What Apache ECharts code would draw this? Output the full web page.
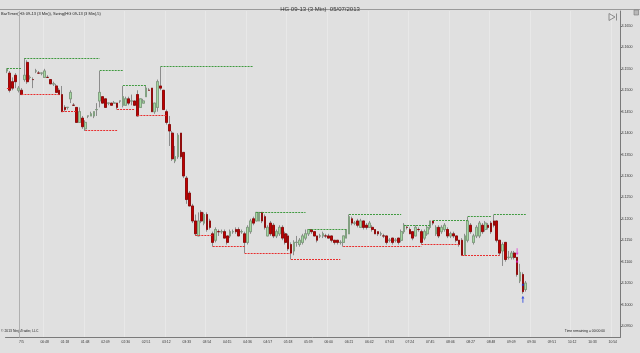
<!DOCTYPE html>
<html><head><meta charset="utf-8">
<script src="https://cdn.jsdelivr.net/npm/echarts@6/dist/echarts.min.js"></script>
<style>html,body{margin:0;padding:0;background:#e0e0e0;}#c{width:640px;height:353px;}</style>
</head><body><div id="c"></div>
<script>
// ---- data (HG 09-13, 3-minute bars) ----
const opens = [3.1545,3.1540,3.1520,3.1535,3.1500,3.1500,3.1525,3.1565,3.1530,3.1525,
3.1545,3.1540,3.1540,3.1530,3.1530,3.1525,3.1515,3.1510,3.1500,3.1490,
3.1460,3.1460,3.1480,3.1465,3.1460,3.1425,3.1435,3.1410,3.1440,3.1440,
3.1440,3.1455,3.1475,3.1485,3.1480,3.1470,3.1470,3.1470,3.1470,3.1475,
3.1465,3.1465,3.1480,3.1475,3.1475,3.1490,3.1460,3.1470,3.1485,3.1500,
3.1505,3.1450,3.1460,3.1510,3.1500,3.1450,3.1420,3.1400,3.1335,3.1345,
3.1400,3.1355,3.1295,3.1260,3.1230,3.1195,3.1160,3.1215,3.1190,3.1210,
3.1195,3.1165,3.1150,3.1170,3.1170,3.1170,3.1160,3.1160,3.1170,3.1175,
3.1175,3.1170,3.1165,3.1145,3.1170,3.1200,3.1195,3.1195,3.1215,3.1205,
3.1160,3.1190,3.1185,3.1160,3.1165,3.1180,3.1165,3.1160,3.1140,3.1125,
3.1145,3.1140,3.1145,3.1155,3.1165,3.1175,3.1170,3.1160,3.1160,3.1160,
3.1160,3.1160,3.1160,3.1150,3.1150,3.1145,3.1145,3.1155,3.1165,3.1200,
3.1190,3.1195,3.1180,3.1195,3.1185,3.1180,3.1180,3.1175,3.1170,3.1165,
3.1160,3.1160,3.1150,3.1155,3.1150,3.1155,3.1150,3.1170,3.1180,3.1175,
3.1170,3.1160,3.1175,3.1170,3.1155,3.1165,3.1180,3.1195,3.1165,3.1180,
3.1170,3.1175,3.1175,3.1160,3.1165,3.1160,3.1150,3.1150,3.1115,3.1150,
3.1185,3.1145,3.1160,3.1160,3.1185,3.1175,3.1185,3.1190,3.1195,3.1195,
3.1150,3.1125,3.1145,3.1110,3.1110,3.1120,3.1110,3.1055,3.1070,3.1035];
const highs = [3.1550,3.1545,3.1530,3.1540,3.1510,3.1505,3.1575,3.1570,3.1535,3.1530,
3.1550,3.1545,3.1540,3.1550,3.1535,3.1525,3.1520,3.1515,3.1505,3.1510,
3.1465,3.1460,3.1500,3.1470,3.1460,3.1460,3.1440,3.1430,3.1440,3.1450,
3.1450,3.1470,3.1545,3.1485,3.1480,3.1470,3.1470,3.1475,3.1470,3.1475,
3.1510,3.1485,3.1485,3.1490,3.1475,3.1500,3.1480,3.1480,3.1510,3.1505,
3.1505,3.1470,3.1525,3.1555,3.1500,3.1455,3.1440,3.1405,3.1370,3.1400,
3.1400,3.1355,3.1300,3.1265,3.1235,3.1210,3.1215,3.1220,3.1215,3.1215,
3.1200,3.1170,3.1180,3.1175,3.1175,3.1175,3.1160,3.1175,3.1175,3.1180,
3.1180,3.1175,3.1170,3.1185,3.1200,3.1205,3.1215,3.1215,3.1215,3.1210,
3.1185,3.1195,3.1190,3.1175,3.1185,3.1185,3.1170,3.1165,3.1145,3.1150,
3.1160,3.1155,3.1165,3.1175,3.1175,3.1175,3.1170,3.1160,3.1165,3.1170,
3.1165,3.1165,3.1160,3.1150,3.1150,3.1150,3.1160,3.1175,3.1210,3.1205,
3.1195,3.1200,3.1200,3.1195,3.1190,3.1195,3.1185,3.1175,3.1170,3.1170,
3.1165,3.1160,3.1155,3.1155,3.1155,3.1155,3.1175,3.1190,3.1185,3.1180,
3.1170,3.1185,3.1180,3.1175,3.1175,3.1185,3.1195,3.1195,3.1185,3.1185,
3.1185,3.1190,3.1180,3.1170,3.1170,3.1160,3.1150,3.1155,3.1165,3.1205,
3.1190,3.1165,3.1185,3.1195,3.1190,3.1195,3.1190,3.1195,3.1210,3.1195,
3.1150,3.1145,3.1145,3.1125,3.1125,3.1125,3.1110,3.1095,3.1075,3.1055];
const lows = [3.1540,3.1495,3.1500,3.1505,3.1495,3.1490,3.1520,3.1515,3.1525,3.1505,
3.1540,3.1540,3.1535,3.1530,3.1530,3.1515,3.1510,3.1495,3.1490,3.1450,
3.1450,3.1455,3.1470,3.1465,3.1425,3.1425,3.1410,3.1405,3.1435,3.1440,
3.1435,3.1440,3.1460,3.1470,3.1460,3.1465,3.1465,3.1470,3.1455,3.1470,
3.1460,3.1465,3.1465,3.1465,3.1465,3.1440,3.1460,3.1470,3.1485,3.1500,
3.1450,3.1445,3.1450,3.1500,3.1455,3.1420,3.1370,3.1335,3.1330,3.1340,
3.1340,3.1295,3.1235,3.1230,3.1190,3.1160,3.1160,3.1190,3.1185,3.1170,
3.1175,3.1135,3.1145,3.1160,3.1165,3.1155,3.1140,3.1155,3.1165,3.1165,
3.1160,3.1165,3.1120,3.1140,3.1165,3.1185,3.1195,3.1195,3.1190,3.1175,
3.1160,3.1160,3.1155,3.1155,3.1160,3.1150,3.1140,3.1125,3.1105,3.1115,
3.1135,3.1135,3.1140,3.1150,3.1160,3.1165,3.1160,3.1145,3.1155,3.1155,
3.1155,3.1155,3.1145,3.1140,3.1140,3.1140,3.1135,3.1155,3.1165,3.1185,
3.1185,3.1180,3.1180,3.1175,3.1175,3.1180,3.1170,3.1165,3.1160,3.1160,
3.1155,3.1140,3.1145,3.1140,3.1145,3.1140,3.1145,3.1165,3.1175,3.1165,
3.1150,3.1160,3.1170,3.1140,3.1150,3.1160,3.1175,3.1185,3.1160,3.1155,
3.1165,3.1170,3.1155,3.1155,3.1155,3.1145,3.1135,3.1115,3.1115,3.1145,
3.1165,3.1140,3.1155,3.1155,3.1165,3.1170,3.1175,3.1165,3.1180,3.1145,
3.1115,3.1090,3.1100,3.1105,3.1105,3.1105,3.1065,3.1050,3.1025,3.1030];
const closes = [3.1550,3.1500,3.1505,3.1520,3.1505,3.1490,3.1535,3.1520,3.1530,3.1525,
3.1545,3.1540,3.1540,3.1545,3.1530,3.1515,3.1515,3.1495,3.1490,3.1450,
3.1455,3.1460,3.1495,3.1465,3.1425,3.1450,3.1415,3.1425,3.1440,3.1445,
3.1450,3.1455,3.1495,3.1470,3.1460,3.1470,3.1465,3.1470,3.1460,3.1475,
3.1485,3.1480,3.1470,3.1475,3.1465,3.1440,3.1480,3.1475,3.1505,3.1500,
3.1450,3.1470,3.1520,3.1505,3.1455,3.1425,3.1405,3.1340,3.1345,3.1395,
3.1345,3.1300,3.1245,3.1230,3.1195,3.1165,3.1195,3.1195,3.1210,3.1175,
3.1180,3.1145,3.1175,3.1170,3.1170,3.1155,3.1145,3.1170,3.1170,3.1170,
3.1160,3.1170,3.1145,3.1180,3.1195,3.1190,3.1215,3.1215,3.1195,3.1180,
3.1180,3.1165,3.1160,3.1170,3.1180,3.1155,3.1145,3.1130,3.1120,3.1145,
3.1145,3.1150,3.1160,3.1165,3.1175,3.1170,3.1160,3.1150,3.1160,3.1165,
3.1160,3.1155,3.1150,3.1145,3.1145,3.1145,3.1160,3.1175,3.1205,3.1190,
3.1190,3.1185,3.1195,3.1180,3.1180,3.1190,3.1175,3.1165,3.1165,3.1165,
3.1160,3.1145,3.1150,3.1145,3.1150,3.1145,3.1170,3.1185,3.1180,3.1165,
3.1155,3.1180,3.1175,3.1145,3.1170,3.1180,3.1195,3.1190,3.1180,3.1160,
3.1180,3.1185,3.1160,3.1165,3.1160,3.1150,3.1140,3.1115,3.1160,3.1195,
3.1170,3.1160,3.1180,3.1190,3.1170,3.1190,3.1180,3.1170,3.1185,3.1150,
3.1120,3.1140,3.1105,3.1110,3.1120,3.1110,3.1070,3.1075,3.1030,3.1050];

// swing lines: [startBar, endBar, price]
const swingHighs = [[0,5,3.1550],[6,32,3.1575],[32,40,3.1545],[40,48,3.1510],[53,85,3.1555],
[86,103,3.1215],[104,117,3.1175],[118,136,3.1210],[137,146,3.1185],[147,159,3.1195],
[159,167,3.1205],[168,179,3.1210]];
const swingLows = [[0,1,3.1505],[5,18,3.1490],[19,24,3.1450],[27,38,3.1405],[38,44,3.1455],
[45,55,3.1440],[65,71,3.1160],[71,82,3.1135],[82,98,3.1120],[98,115,3.1105],
[116,143,3.1135],[143,156,3.1140],[157,170,3.1115]];

// signal markers: [bar, price]
const sellArrows = [[176,3.1123]];
const sellDots = [[176,3.1100]];
const buyArrows = [[178,3.1012]];
const buyDots = [[178,3.1046]];

// axis ticks
const tickIndex = [5,13,20,27,34,41,48,55,62,69,76,83,90,97,104,111,118,125,132,139,146,153,160,167,174,181,188,195,202,209];
const tickLabels = ['7/5','00:48','01:18','01:48','02:09','02:30','02:51','03:12','03:33','03:54','04:15','04:36','04:57','05:18','05:39','06:00','06:21','06:42','07:03','07:24','07:45','08:06','08:27','08:48','09:09','09:30','09:51','10:12','10:33','10:54'];
const gridIndex = [13,27,41,55,69,83,97,111,125,139,153,167,181,195,209];
const priceTicks = [3.0950,3.1000,3.1050,3.1100,3.1150,3.1200,3.1250,3.1300,3.1350,3.1400,3.1450,3.1500,3.1550,3.1600,3.1650];
const slotCount = 212;
const lastPrice = closes[closes.length-1];

// ---- build ----
const cats = Array.from({length: slotCount}, (_, i) => 'b' + i);
const tickSet = new Set(tickIndex);
const gridSet = new Set(gridIndex);
const labelMap = {};
tickIndex.forEach((ix, k) => { labelMap[ix] = tickLabels[k]; });
const ohlc = opens.map((o, i) => [o, closes[i], lows[i], highs[i]]);
const bodies = opens.map((o, i) => [o, closes[i], Math.min(o, closes[i]), Math.max(o, closes[i])]);
const FONT = 'Liberation Sans, Arial, sans-serif';
const ARROW = 'path://M2,0 L4,3 L2.6,3 L2.6,8 L1.4,8 L1.4,3 L0,3 Z';

const chart = echarts.init(document.getElementById('c'), null, {renderer: 'canvas'});

// line endpoints from data; y nudged onto a pixel row through the axis scale so the 1px dotted lines stay crisp
function toLines(list, snap) {
  return list.map(s => {
    let v = s[2];
    if (snap) {
      const py = chart.convertToPixel({yAxisIndex: 0}, v);
      v = chart.convertFromPixel({yAxisIndex: 0}, Math.floor(py) + 0.5);
    }
    return {coords: [[s[0], v], [s[1], v]]};
  });
}

function buildOption(snap) {
  return {
  animation: false,
  backgroundColor: '#e0e0e0',
  title: {text: 'HG 09-13 (3 Min)  05/07/2013', left: 'center', top: 1,
    textStyle: {fontSize: 6, fontWeight: 'normal', color: '#333', fontFamily: FONT}},
  grid: {left: 5.5, right: 20, top: 11, bottom: 15.5, show: false},
  xAxis: {
    type: 'category', data: cats, boundaryGap: true,
    axisLine: {lineStyle: {color: '#7a7a7a', width: 1}},
    axisTick: {interval: (i) => tickSet.has(i), alignWithLabel: true, length: 2, lineStyle: {color: '#7a7a7a'}},
    axisLabel: {interval: (i) => tickSet.has(i), formatter: (v, i) => labelMap[i] || '',
      fontSize: 3.4, color: '#333', margin: 3, fontFamily: FONT},
    splitLine: {show: true, interval: (i) => gridSet.has(i), lineStyle: {color: '#e8e8e8', width: 1}}
  },
  yAxis: {
    type: 'value', position: 'right', min: 3.0923, max: 3.1685, scale: true,
    axisLine: {show: true, lineStyle: {color: '#7a7a7a'}},
    axisTick: {show: true, customValues: priceTicks, length: 2, lineStyle: {color: '#7a7a7a'}},
    axisLabel: {customValues: priceTicks, formatter: (v) => v.toFixed(4), fontSize: 3.6,
      color: '#333', margin: 1.5, fontFamily: FONT},
    splitLine: {show: false}
  },
  series: [
    {
      name: 'wicks', type: 'candlestick', data: ohlc, barWidth: 2.2, z: 2, silent: true,
      itemStyle: {color: '#8c8c8c', color0: '#8c8c8c', borderColor: '#8c8c8c', borderColor0: '#8c8c8c', borderWidth: 1}
    },
    {
      name: 'bodies', type: 'candlestick', data: bodies, barWidth: 2.2, z: 3, silent: true,
      itemStyle: {color: '#a6d8a2', color0: '#c00000', borderColor: '#7e9c7c', borderColor0: '#8a0000', borderWidth: 0.8},
      markLine: {silent: true, symbol: ['none', 'none'], animation: false,
        lineStyle: {opacity: 0},
        label: {show: true, position: 'end', distance: 1, formatter: () => lastPrice.toFixed(4),
          backgroundColor: '#111', color: '#fff', fontSize: 3.6, padding: [1, 1.5], borderRadius: 1, fontFamily: FONT},
        data: [{yAxis: lastPrice}]}
    },
    {name: 'swingHigh', type: 'lines', coordinateSystem: 'cartesian2d', z: 4, silent: true,
      data: snap ? toLines(swingHighs, true) : [], lineStyle: {color: '#3f9a3f', type: [2, 1], width: 1, opacity: 1}},
    {name: 'swingLow', type: 'lines', coordinateSystem: 'cartesian2d', z: 4, silent: true,
      data: snap ? toLines(swingLows, true) : [], lineStyle: {color: '#e82e2e', type: [2, 1], width: 1, opacity: 1}},
    {type: 'scatter', data: sellArrows, z: 5, silent: true, symbol: ARROW,
      symbolRotate: 180, symbolSize: [3, 7], itemStyle: {color: '#e020d0'}},
    {type: 'scatter', data: sellDots, z: 5, silent: true, symbol: 'rect', symbolSize: [2, 2], itemStyle: {color: '#e020d0'}},
    {type: 'scatter', data: buyArrows, z: 5, silent: true, symbol: ARROW,
      symbolSize: [3, 7], itemStyle: {color: '#1030e0'}},
    {type: 'scatter', data: buyDots, z: 5, silent: true, symbol: 'rect', symbolSize: [2, 2], itemStyle: {color: '#1030e0'}}
  ]
  };
}
chart.setOption(buildOption(false));
chart.setOption(buildOption(true));

const x4 = chart.convertToPixel({xAxisIndex: 0}, 4);
const x5 = chart.convertToPixel({xAxisIndex: 0}, 5);
const sep = Math.floor((x4 + x5) / 2) + 0.5;
chart.setOption({
  graphic: [
    {type: 'line', shape: {x1: 0, y1: 9.5, x2: 640, y2: 9.5}, style: {stroke: '#9a9a9a', lineWidth: 1}, silent: true},
    {type: 'line', shape: {x1: sep, y1: 11, x2: sep, y2: 337.5}, style: {stroke: '#b0b0b0', lineWidth: 1}, silent: true, z: 1},
    {type: 'text', left: 1, top: 12, silent: true,
      style: {text: 'BarTimer(HG 09-13 (3 Min)), Swing(HG 09-13 (3 Min),5)', fontSize: 4, fill: '#222', fontFamily: FONT}},
    {type: 'text', left: 1, top: 329.5, silent: true,
      style: {text: '\u00a9 2013 NinjaTrader, LLC', fontSize: 3.4, fill: '#222', fontFamily: FONT}},
    {type: 'text', right: 35, top: 329.5, silent: true,
      style: {text: 'Time remaining = 00:00:00', fontSize: 3.4, fill: '#222', fontFamily: FONT}},
    {type: 'polygon', shape: {points: [[609, 13.5], [615, 17], [609, 20.5]]}, style: {fill: 'none', stroke: '#777', lineWidth: 0.8}, silent: true},
    {type: 'line', shape: {x1: 616.5, y1: 13.5, x2: 616.5, y2: 20.5}, style: {stroke: '#777', lineWidth: 0.8}, silent: true},
    {type: 'rect', shape: {x: 634, y: 10, width: 4.5, height: 5}, style: {fill: '#b8b8b8', stroke: '#777', lineWidth: 0.6}, silent: true}
  ]
});
</script>
</body></html>
